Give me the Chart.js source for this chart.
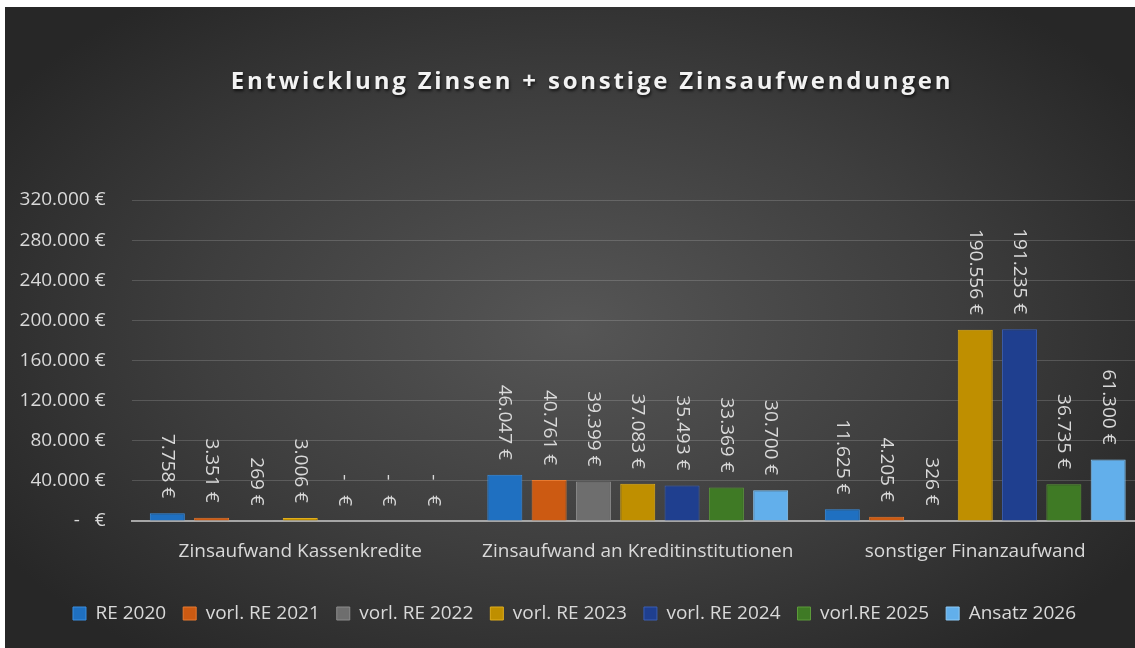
<!DOCTYPE html>
<html>
<head>
<meta charset="utf-8">
<script src="https://cdn.jsdelivr.net/npm/chart.js@4"></script>
<style>
  html, body { margin: 0; padding: 0; background: #fff; overflow: hidden; }
  #wrap {
    position: absolute; left: 5px; top: 7px; width: 1139px; height: 641px;
    background: radial-gradient(ellipse 60% 65% at 50% 50%, #565656 0%, #3e3e3e 55%, #272727 100%);
  }
</style>
</head>
<body>
<div id="wrap"><canvas id="zinsChart"></canvas></div>
<script>
    var chartTitle = "Entwicklung Zinsen + sonstige Zinsaufwendungen";

    var categories = ["Zinsaufwand Kassenkredite", "Zinsaufwand an Kreditinstitutionen", "sonstiger Finanzaufwand"];

    var re2020     = [7758, 46047, 11625];
    var vorlRe2021 = [3351, 40761, 4205];
    var vorlRe2022 = [269, 39399, 326];
    var vorlRe2023 = [3006, 37083, 190556];
    var vorlRe2024 = [0, 35493, 191235];
    var vorlRe2025 = [0, 33369, 36735];
    var ansatz2026 = [0, 30700, 61300];

    var yTicks = [0, 40000, 80000, 120000, 160000, 200000, 240000, 280000, 320000];

    function euro(v) {
        if (v === 0) return "-   €";
        return String(Math.round(v)).replace(/\B(?=(\d{3})+(?!\d))/g, ".") + " €";
    }

    var labelColor = "#d9d9d9";
    var fontFamily = "'Open Sans', sans-serif";

    // title drawn by hand because it needs letter spacing
    var titlePlugin = {
        id: "spacedTitle",
        afterDraw: function(chart) {
            var ctx = chart.ctx;
            ctx.save();
            ctx.font = "bold 24px " + fontFamily;
            ctx.letterSpacing = "2.8px";
            ctx.textAlign = "center";
            ctx.textBaseline = "middle";
            ctx.shadowColor = "rgba(0,0,0,0.7)";
            ctx.shadowBlur = 3;
            ctx.shadowOffsetX = 1;
            ctx.shadowOffsetY = 2;
            ctx.fillStyle = "#f2f2f2";
            ctx.fillText(chartTitle, 587, 75);
            ctx.restore();
        }
    };

    var valueLabels = {
        id: "valueLabels",
        afterDatasetsDraw: function(chart) {
            var ctx = chart.ctx;
            ctx.save();
            ctx.font = "19px " + fontFamily;
            ctx.fillStyle = labelColor;
            ctx.textAlign = "right";
            ctx.textBaseline = "middle";
            chart.data.datasets.forEach(function(ds, i) {
                chart.getDatasetMeta(i).data.forEach(function(bar, j) {
                    ctx.save();
                    ctx.translate(bar.x, bar.y - 15);
                    ctx.rotate(Math.PI / 2);
                    ctx.fillText(euro(ds.data[j]), 0, 0);
                    ctx.restore();
                });
            });
            ctx.restore();
        }
    };

    function series(label, data, color, edge) {
        return {
            label: label,
            data: data,
            backgroundColor: color,
            borderColor: edge,
            borderWidth: 1,
            borderSkipped: "bottom",
            categoryPercentage: 0.919,
            barPercentage: 0.79
        };
    }

    var ctx = document.getElementById("zinsChart").getContext("2d");
    var zinsChart = new Chart(ctx, {
        type: "bar",
        data: {
            labels: categories,
            datasets: [
                series("RE 2020", re2020, "#1f70c1", "#3a8ee0"),
                series("vorl. RE 2021", vorlRe2021, "#cc5a12", "#e77a30"),
                series("vorl. RE 2022", vorlRe2022, "#6e6e6e", "#8c8c8c"),
                series("vorl. RE 2023", vorlRe2023, "#bf8f00", "#e0ae1c"),
                series("vorl. RE 2024", vorlRe2024, "#1f3f8f", "#3a5fb5"),
                series("vorl.RE 2025", vorlRe2025, "#3f7a25", "#5c9a3a"),
                series("Ansatz 2026", ansatz2026, "#62afeb", "#8ccaf7")
            ]
        },
        options: {
            responsive: true,
            maintainAspectRatio: false,
            animation: false,
            layout: { padding: { top: 193, bottom: 15, left: 0, right: 0 } },
            plugins: {
                title: { display: false },
                tooltip: { enabled: false },
                legend: {
                    position: "bottom",
                    labels: {
                        color: labelColor,
                        font: { family: fontFamily, size: 19 },
                        boxWidth: 13,
                        boxHeight: 13,
                        padding: 17
                    }
                }
            },
            scales: {
                x: {
                    grid: { display: false },
                    border: { display: true, color: "#a6a6a6", width: 2 },
                    ticks: {
                        color: labelColor,
                        font: { family: fontFamily, size: 19 },
                        padding: 11,
                        maxRotation: 0
                    },
                    afterFit: function(scale) { scale.height = 66; }
                },
                y: {
                    min: 0,
                    max: 320000,
                    afterBuildTicks: function(scale) {
                        scale.ticks = yTicks.map(function(v) { return { value: v }; });
                    },
                    grid: { color: "rgba(255,255,255,0.16)", lineWidth: 1, drawTicks: false },
                    border: { display: false },
                    ticks: {
                        color: labelColor,
                        font: { family: fontFamily, size: 19 },
                        padding: 26,
                        callback: function(v) { return euro(v); }
                    },
                    afterFit: function(scale) { scale.width = 126.5; }
                }
            }
        },
        plugins: [titlePlugin, valueLabels]
    });
</script>
</body>
</html>
